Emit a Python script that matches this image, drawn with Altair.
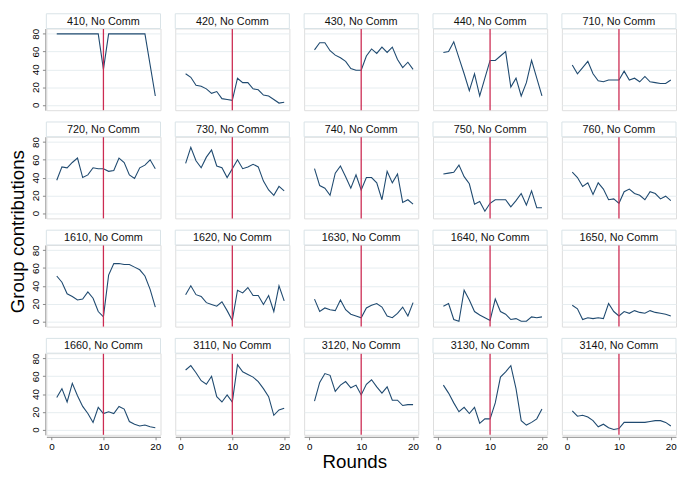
import altair as alt
import pandas as pd

groups = ["410", "420", "430", "440", "710",
          "720", "730", "740", "750", "760",
          "1610", "1620", "1630", "1640", "1650",
          "1660", "3110", "3120", "3130", "3140"]
condition = "No Comm"
rounds = list(range(1, 21))
switch_round = 10

g410 = [80, 80, 80, 80, 80, 80, 80, 80, 80, 40, 80, 80, 80, 80, 80, 80, 80, 80, 45, 10]
g420 = [35, 31, 22, 21, 18, 13, 15, 7, 6, 5, 30, 25, 25, 18, 17, 11, 10, 6, 2, 3]
g430 = [62, 70, 70, 61, 56, 53, 49, 41, 39, 39, 55, 63, 58, 65, 59, 65, 51, 42, 48, 40]
g440 = [59, 60, 71, 53, 35, 16, 35, 10, 30, 50, 50, 55, 60, 20, 30, 10, 25, 50, 30, 10]
g710 = [45, 35, 42, 49, 35, 27, 26, 28, 28, 28, 38, 28, 30, 26, 32, 26, 25, 24, 24, 28]
g720 = [37, 52, 51, 57, 62, 40, 43, 51, 50, 50, 47, 48, 62, 57, 43, 39, 51, 54, 60, 50]
g730 = [56, 74, 59, 51, 63, 71, 53, 51, 40, 50, 60, 50, 52, 55, 52, 36, 26, 20, 30, 25]
g740 = [50, 31, 28, 20, 45, 53, 41, 28, 43, 26, 40, 40, 34, 15, 47, 34, 44, 12, 15, 10]
g750 = [44, 45, 46, 54, 41, 33, 10, 13, 2, 11, 15, 15, 15, 7, 14, 22, 9, 25, 6, 6]
g760 = [46, 40, 30, 34, 21, 34, 27, 15, 16, 11, 24, 27, 22, 20, 15, 24, 22, 16, 19, 14]
g1610 = [51, 44, 31, 28, 24, 25, 33, 26, 11, 5, 52, 65, 65, 64, 64, 61, 58, 51, 36, 16]
g1620 = [30, 40, 30, 28, 21, 19, 17, 22, 12, 1, 35, 32, 38, 29, 29, 19, 29, 11, 40, 23]
g1630 = [25, 11, 15, 13, 12, 24, 13, 8, 6, 4, 15, 18, 20, 16, 6, 4, 9, 16, 6, 21]
g1640 = [17, 20, 2, 0, 35, 24, 11, 7, 4, 1, 25, 11, 8, 2, 3, 0, 0, 5, 4, 5]
g1650 = [18, 14, 2, 4, 3, 4, 3, 20, 11, 6, 11, 9, 12, 10, 9, 12, 10, 9, 8, 6]
g1660 = [36, 46, 31, 52, 38, 26, 18, 8, 25, 18, 20, 18, 26, 23, 9, 6, 4, 5, 3, 2]
g3110 = [67, 72, 64, 55, 51, 60, 37, 31, 39, 31, 73, 65, 62, 59, 54, 46, 37, 16, 22, 24]
g3120 = [32, 53, 63, 61, 43, 50, 54, 47, 50, 39, 51, 56, 48, 41, 48, 33, 33, 27, 28, 28]
g3130 = [50, 41, 30, 20, 25, 18, 25, 7, 12, 12, 30, 59, 65, 72, 46, 10, 5, 8, 12, 23]
g3140 = [21, 15, 16, 14, 10, 3, 6, 2, 0, 1, 8, 8, 8, 8, 8, 9, 10, 10, 8, 4]

series = [g410, g420, g430, g440, g710, g720, g730, g740, g750, g760,
          g1610, g1620, g1630, g1640, g1650, g1660, g3110, g3120, g3130, g3140]

x_ticks = [0, 5, 10, 15, 20]
y_ticks = [0, 20, 40, 60, 80]

labels = [f"{g}, {condition}" for g in groups]
rows = []
for lab, vals in zip(labels, series):
    for r, v in zip(rounds, vals):
        rows.append({"label": lab, "round": r, "value": v})
df = pd.DataFrame(rows)

FONT = "Liberation Sans"
W, H, HEAD = 116, 83, 15
NAVY = "#1f4a70"
RED = "#cc2b52"

xscale = alt.Scale(domain=[-1, 21], nice=False, zero=False)
yscale = alt.Scale(domain=[-6, 86], nice=False, zero=False)

x_enc = alt.X("round:Q", scale=xscale,
              axis=alt.Axis(values=x_ticks, title=None, grid=False,
                            labelFontSize=10, labelPadding=2, tickSize=3))
y_enc = alt.Y("value:Q", scale=yscale,
              axis=alt.Axis(values=y_ticks, title=None, grid=True,
                            gridColor="#e5edf0", gridWidth=1,
                            labelAngle=270, labelAlign="center",
                            labelBaseline="bottom", labelFontSize=10,
                            labelPadding=2, tickSize=3))

line = alt.Chart().mark_line(color=NAVY, strokeWidth=1.1).encode(x=x_enc, y=y_enc)

at_switch = alt.Chart().transform_filter(alt.datum.round == switch_round)
rule = at_switch.mark_rule(color=RED, strokeWidth=1.3).encode(
    x=alt.X("round:Q", scale=xscale))
head_box = at_switch.mark_rect(fill="white", stroke="#d8e2e7", strokeWidth=1).encode(
    x=alt.value(0), x2=alt.value(W), y=alt.value(-HEAD), y2=alt.value(0))
head_txt = at_switch.mark_text(font=FONT, fontSize=11, color="#111111").encode(
    x=alt.value(W / 2), y=alt.value(-HEAD / 2 + 0.5), text="label:N")

panel = alt.layer(line, rule, head_box, head_txt, data=df).properties(width=W, height=H)

facet = panel.facet(
    facet=alt.Facet("label:N", sort=labels,
                    header=alt.Header(labelExpr="''", title=None, labelPadding=0,
                                      labelFontSize=1)),
    columns=5,
    spacing={"row": 8, "column": 13},
).properties(
    title=alt.TitleParams("Group contributions", orient="left", anchor="middle",
                          fontSize=19, font=FONT, fontWeight="normal",
                          color="#000000", offset=3)
)

chart = alt.vconcat(facet).properties(
    padding=0,
    title=alt.TitleParams("Rounds", orient="bottom", anchor="middle",
                          fontSize=19, font=FONT, fontWeight="normal",
                          color="#000000", offset=2, dx=12),
).configure_view(strokeWidth=0).configure_axis(
    labelFont=FONT, labelColor="#222222", domainColor="#666666",
    tickColor="#666666", domainWidth=1,
).configure(background="white")

chart.save("out.html", embed_options={"renderer": "svg", "actions": False})
